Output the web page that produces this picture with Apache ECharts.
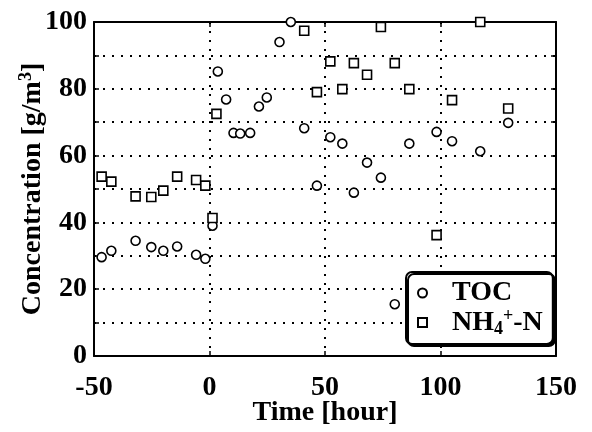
<!DOCTYPE html>
<html>
<head>
<meta charset="utf-8">
<script src="https://cdn.jsdelivr.net/npm/echarts@6/dist/echarts.min.js"></script>
<style>
  html, body { margin: 0; padding: 0; background: #fff; }
  #chart { width: 592px; height: 432px; }
</style>
</head>
<body>
<div id="chart"></div>
<script>
// Sampling times [hour] and concentrations [g/m3]
const tocTime  = [-46.7, -42.5, -32, -25.2, -20, -14, -5.8, -1.8, 1.3, 3.6, 7.2, 10.4, 13.3, 17.6, 21.4, 24.8, 30.3, 35.2, 41, 46.5, 52.3, 57.5, 62.5, 68.2, 74.2, 80.2, 86.5, 98.3, 105, 117.2, 129.3];
const tocValue = [29.6, 31.5, 34.5, 32.6, 31.5, 32.8, 30.3, 29.1, 39, 85.2, 76.8, 66.8, 66.6, 66.8, 74.7, 77.4, 94, 100, 68.2, 51, 65.5, 63.6, 48.9, 57.9, 53.4, 15.5, 63.6, 67.1, 64.3, 61.3, 69.8];

const nh4Time  = [-46.7, -42.5, -32, -25.2, -20, -14, -5.8, -1.8, 1.3, 3, 41, 46.5, 52.3, 57.5, 62.5, 68.2, 74.2, 80.2, 86.5, 98.3, 105, 117.2, 129.3];
const nh4Value = [53.7, 52.2, 47.8, 47.6, 49.5, 53.7, 52.7, 51, 41.3, 72.5, 97.4, 79, 88.2, 79.9, 87.7, 84.2, 98.5, 87.7, 79.9, 36.2, 76.6, 100, 74.1];

const xTickLabels = [-50, 0, 50, 100, 150];
const yTickLabels = [0, 20, 40, 60, 80, 100];

const FONT = '"Liberation Serif", "Times New Roman", serif';

const pairs = (xs, ys) => xs.map((x, i) => [x, ys[i]]);

const gridDash = { color: '#000', width: 2, type: [2, 7] };
const labelStyle = { fontFamily: FONT, fontWeight: 'bold', fontSize: 28, color: '#000' };
const frameLine = { show: true, onZero: false, lineStyle: { color: '#000', width: 2 } };
const innerTick = { show: true, inside: true, length: 5, lineStyle: { color: '#000', width: 1.5 } };

const chart = echarts.init(document.getElementById('chart'), null, { renderer: 'canvas' });

chart.setOption({
  animation: false,
  backgroundColor: '#fff',
  grid: { left: 94, right: 36, top: 22, bottom: 76, containLabel: false, outerBoundsMode: 'none' },
  xAxis: [
    {
      type: 'value', min: -50, max: 150, interval: 50,
      axisLine: frameLine,
      axisTick: innerTick,
      axisLabel: Object.assign({ margin: 18, formatter: v => xTickLabels.includes(v) ? String(v) : '' }, labelStyle),
      splitLine: { show: true, lineStyle: gridDash },
      name: 'Time [hour]',
      nameLocation: 'middle',
      nameGap: 43,
      nameMoveOverlap: false,
      nameTextStyle: { fontFamily: FONT, fontWeight: 'bold', fontSize: 28, color: '#000' }
    },
    {
      type: 'value', position: 'top', min: -50, max: 150, interval: 50,
      axisLine: frameLine,
      axisTick: innerTick,
      axisLabel: { show: false },
      splitLine: { show: false }
    }
  ],
  yAxis: [
    {
      type: 'value', min: 0, max: 100, interval: 10,
      axisLine: frameLine,
      axisTick: innerTick,
      axisLabel: Object.assign({ margin: 7, formatter: v => yTickLabels.includes(v) ? String(v) : '' }, labelStyle),
      splitLine: { show: true, lineStyle: gridDash },
      name: '{t|Concentration [g/m}{s|3}{t|]}',
      nameLocation: 'middle',
      nameRotate: 90,
      nameGap: 45,
      nameMoveOverlap: false,
      nameTextStyle: {
        rich: {
          t: { fontFamily: FONT, fontWeight: 'bold', fontSize: 28, color: '#000', lineHeight: 32, verticalAlign: 'middle' },
          s: { fontFamily: FONT, fontWeight: 'bold', fontSize: 18, color: '#000', lineHeight: 12, verticalAlign: 'top' }
        }
      }
    },
    {
      type: 'value', position: 'right', min: 0, max: 100, interval: 10,
      axisLine: frameLine,
      axisTick: innerTick,
      axisLabel: { show: false },
      splitLine: { show: false }
    }
  ],
  legend: {
    orient: 'vertical',
    left: 406, top: 272,
    padding: [7, 10, 6, 11],
    itemGap: 0,
    itemWidth: 9, itemHeight: 9,
    backgroundColor: '#fff',
    borderColor: '#000', borderWidth: 2, borderRadius: 6,
    shadowColor: '#000', shadowBlur: 0, shadowOffsetX: 2, shadowOffsetY: 2,
    data: [{ name: 'TOC', icon: 'circle' }, { name: 'NH4+-N', icon: 'rect' }],
    formatter: name => name === 'TOC' ? '{t|TOC}' : '{t|NH}{sub|4}{sup|+}{t|-N}',
    textStyle: {
      padding: [0, 0, 0, 20],
      rich: {
        t: { fontFamily: FONT, fontWeight: 'bold', fontSize: 28, color: '#000', lineHeight: 31, verticalAlign: 'middle' },
        sub: { fontFamily: FONT, fontWeight: 'bold', fontSize: 18, color: '#000', lineHeight: 12, verticalAlign: 'bottom' },
        sup: { fontFamily: FONT, fontWeight: 'bold', fontSize: 18, color: '#000', lineHeight: 12, verticalAlign: 'top' }
      }
    }
  },
  series: [
    {
      name: 'TOC', type: 'scatter', clip: false,
      symbol: 'circle', symbolSize: 9,
      itemStyle: { color: '#fff', borderColor: '#000', borderWidth: 1.6, opacity: 1 },
      data: pairs(tocTime, tocValue)
    },
    {
      name: 'NH4+-N', type: 'scatter', clip: false,
      symbol: 'rect', symbolSize: 9,
      itemStyle: { color: '#fff', borderColor: '#000', borderWidth: 1.6, opacity: 1 },
      data: pairs(nh4Time, nh4Value)
    }
  ]
});
</script>
</body>
</html>
